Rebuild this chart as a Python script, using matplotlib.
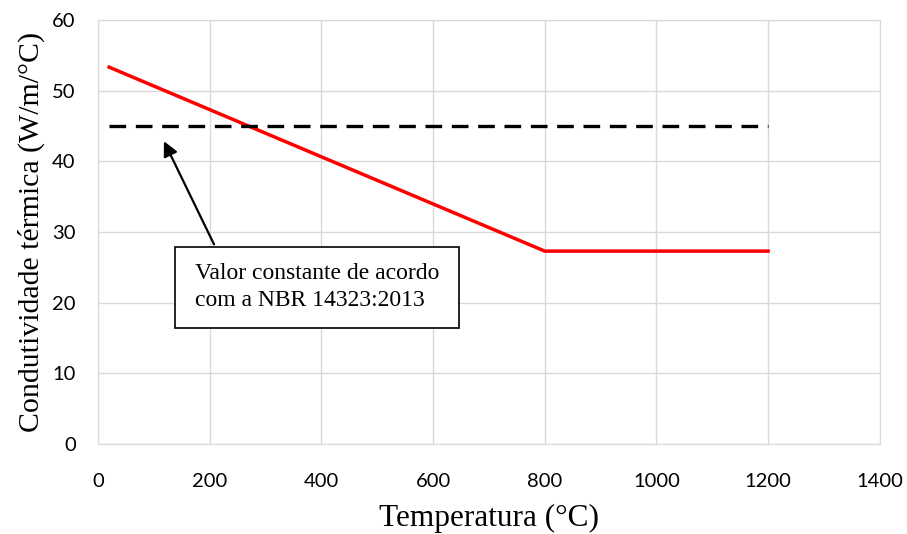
import matplotlib.pyplot as plt
from matplotlib.patches import Rectangle

# condutividade do aço (variável) e valor constante da norma
temp_aco = [20, 800, 1200]
cond_aco = [53.33, 27.3, 27.3]
temp_nbr = [20, 1200]
cond_nbr = [45, 45]

fig = plt.figure(figsize=(9.07, 5.34), dpi=100)
ax = fig.add_axes([0.108, 0.1685, 0.862, 0.794])

ax.plot(temp_aco, cond_aco, color='#ff0000', linewidth=2.5, zorder=3)
ax.plot(temp_nbr, cond_nbr, color='black', linewidth=2.4, dashes=(5.0, 2.9), zorder=3)

ax.set_xlim(0, 1400)
ax.set_ylim(0, 60)
ax.set_xticks(range(0, 1401, 200))
ax.set_yticks(range(0, 61, 10))
ax.grid(True, color='#d9d9d9', linewidth=1.0)
ax.set_axisbelow(True)
for s in ax.spines.values():
    s.set_color('#d9d9d9')
ax.tick_params(length=0, labelsize=14.5)
ax.tick_params(axis='x', pad=21)
ax.tick_params(axis='y', pad=16)
for lab in ax.get_xticklabels() + ax.get_yticklabels():
    lab.set_family('Lato')

serif = 'Liberation Serif'
ax.set_xlabel('Temperatura (°C)', family=serif, fontsize=22.5, labelpad=10)
ax.set_ylabel('Condutividade térmica (W/m/°C)', family=serif, fontsize=21.5, labelpad=5)

# caixa de texto com seta apontando para a linha tracejada
ax.add_patch(Rectangle((138, 16.4), 508, 11.5, facecolor='white', edgecolor='black',
                       linewidth=1.2, zorder=4))
ax.text(173, 22.2, 'Valor constante de acordo\ncom a NBR 14323:2013', family=serif,
        fontsize=17, va='center', ha='left', linespacing=1.35, zorder=5)
ax.annotate('', xy=(116, 43.2), xytext=(210, 27.9),
            arrowprops=dict(arrowstyle='-|>', color='black', lw=1.6,
                            mutation_scale=22), zorder=4)

fig.savefig('out.png', dpi=100)
